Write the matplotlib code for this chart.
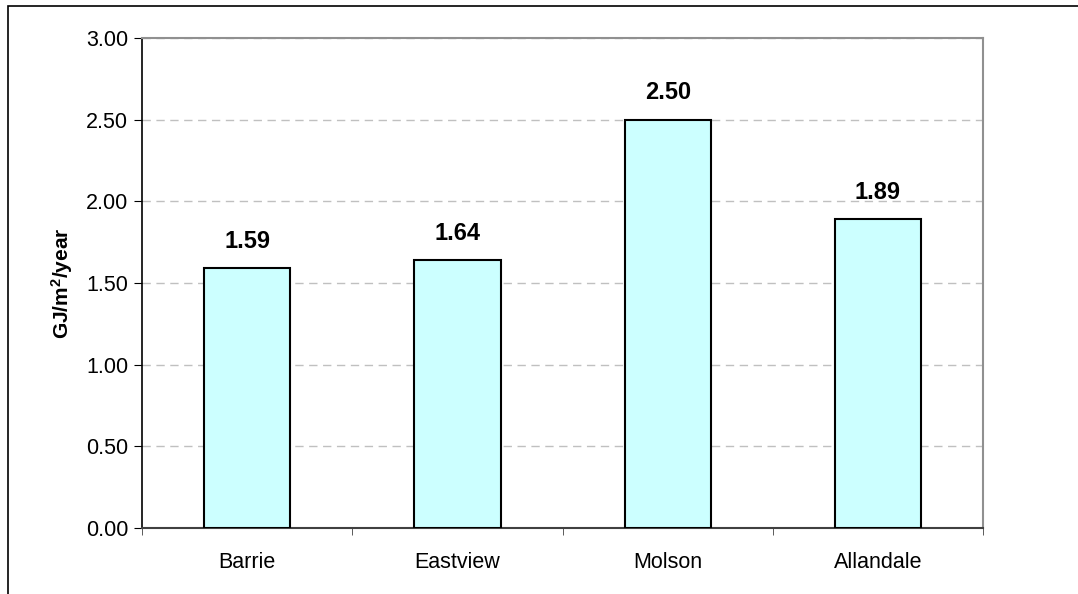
import matplotlib
matplotlib.use("Agg")
import matplotlib.pyplot as plt
from matplotlib.patches import Rectangle

sites = ["Barrie", "Eastview", "Molson", "Allandale"]
intensity = [1.59, 1.64, 2.50, 1.89]
y_ticks = [0.0, 0.5, 1.0, 1.5, 2.0, 2.5, 3.0]

plt.rcParams["font.family"] = ["Liberation Sans", "DejaVu Sans"]
plt.rcParams["mathtext.fontset"] = "custom"
plt.rcParams["mathtext.rm"] = "Liberation Sans:bold"
plt.rcParams["mathtext.it"] = "Liberation Sans:bold"
plt.rcParams["mathtext.bf"] = "Liberation Sans:bold"

fig = plt.figure(figsize=(10.78, 5.94), dpi=100)
ax = fig.add_axes([0.1317, 0.1111, 0.912 - 0.1317, 0.936 - 0.1111])

# outer chart border (runs off the right and bottom edge)
fig.patches.append(Rectangle((8 / 1078, -0.1), 1.2, 1 - 6 / 594 + 0.1,
                             transform=fig.transFigure, fill=False,
                             edgecolor="black", linewidth=1.2, clip_on=False))

x = range(len(sites))
ax.bar(x, intensity, width=0.41, color="#CCFFFF", edgecolor="black",
       linewidth=1.5, zorder=3)

for i, v in zip(x, intensity):
    ax.annotate(f"{v:.2f}", (i, v), xytext=(0, 11), textcoords="offset points",
                ha="center", va="bottom", fontsize=17, fontweight="bold")

ax.set_xlim(-0.5, len(sites) - 0.5)
ax.set_ylim(0, 3.0)
ax.set_yticks(y_ticks)
ax.set_yticklabels([f"{t:.2f}" for t in y_ticks], fontsize=15.5)
ax.yaxis.grid(True, linestyle=(0, (6, 4)), color="#c0c0c0", linewidth=1)
ax.set_axisbelow(True)

# category labels centred, ticks at the category boundaries
ax.set_xticks(list(x))
ax.set_xticklabels(sites, fontsize=15.5)
ax.tick_params(axis="x", length=0, pad=17)
ax.set_xticks([i - 0.5 for i in range(len(sites) + 1)], minor=True)
ax.tick_params(axis="x", which="minor", length=5, direction="out", color="#404040")
ax.tick_params(axis="y", length=6, direction="out", pad=4)

ax.set_ylabel("GJ/m$^{2}$/year", fontsize=15, fontweight="bold", labelpad=8)

ax.spines["left"].set_color("black")
ax.spines["left"].set_linewidth(1.2)
ax.spines["bottom"].set_color("#404040")
ax.spines["bottom"].set_linewidth(1.5)
for side in ("top", "right"):
    ax.spines[side].set_color("#909090")
    ax.spines[side].set_linewidth(1.5)

fig.savefig("out.png", dpi=100)
